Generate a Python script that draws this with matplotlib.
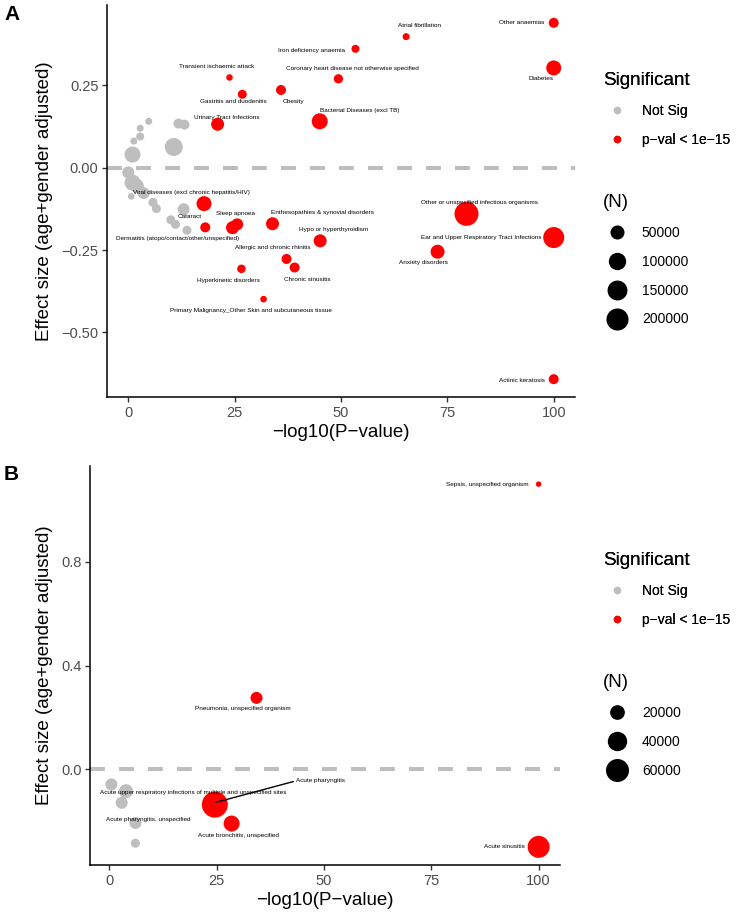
import numpy as np
import matplotlib.pyplot as plt
from matplotlib.lines import Line2D

plt.rcParams['font.family'] = ['Liberation Sans', 'DejaVu Sans']

RED = '#FF0000'
GREY = '#BEBEBE'

# ---------------- panel A data ----------------
a_names = ['Iron deficiency anaemia', 'Transient ischaemic attack',
           'Coronary heart disease not otherwise specified', 'Gastritis and duodenitis',
           'Obesity', 'Urinary Tract Infections', 'Bacterial Diseases (excl TB)',
           'Atrial fibrillation', 'Other anaemias', 'Diabetes',
           'Viral diseases (excl chronic hepatitis/HIV)', 'Cataract',
           'Dermatitis (atopo/contact/other/unspecified)', 'Sleep apnoea',
           'Enthesopathies & synovial disorders', 'Hypo or hyperthyroidism',
           'Allergic and chronic rhinitis', 'Chronic sinusitis', 'Hyperkinetic disorders',
           'Primary Malignancy_Other Skin and subcutaneous tissue',
           'Other or unspecified infectious organisms',
           'Ear and Upper Respiratory Tract Infections', 'Anxiety disorders',
           'Actinic keratosis']
a_logp = [53.4, 23.8, 49.4, 26.8, 35.9, 21.0, 45.0, 65.3, 100, 100,
          17.8, 18.1, 24.5, 25.6, 33.9, 45.1, 37.2, 39.1, 26.6, 31.8,
          79.5, 100, 72.7, 100]
a_effect = [0.361, 0.274, 0.270, 0.223, 0.236, 0.132, 0.141, 0.398, 0.44, 0.303,
            -0.109, -0.181, -0.182, -0.172, -0.170, -0.222, -0.277, -0.303, -0.307, -0.399,
            -0.140, -0.212, -0.255, -0.642]
a_n = [3100, 200, 8400, 7000, 12400, 38000, 77600, 776, 12400, 62800,
       62800, 12400, 38000, 27900, 38000, 38000, 12400, 12400, 4850, 300,
       251000, 174600, 49700, 12400]

a_ns_logp = [4.8, 2.8, 2.8, 1.3, 1.0, 11.8, 13.2, 10.7, 0.0, 1.0, 2.0,
             3.6, 0.7, 5.8, 6.6, 13.0, 10.0, 11.1, 13.8]
a_ns_effect = [0.141, 0.120, 0.095, 0.081, 0.040, 0.134, 0.131, 0.063, -0.014, -0.045, -0.055,
               -0.077, -0.087, -0.105, -0.124, -0.126, -0.158, -0.172, -0.190]
a_ns_n = [776, 776, 3100, 776, 77600, 12400, 12400, 111700, 27900, 77600, 49700,
          27900, 300, 7000, 7000, 27900, 7000, 7000, 7000]

# label offsets from the point, in pixels (right, down)
a_lab_dx = [-44, -13, 14, -9, 13, 9, 40, 13, -32, -13,
            -13, -16, -55, -2, 50, 13, -14, 13, -13, -13,
            13, -72, -14, -32]
a_lab_dy = [2, -11, -10, 7, 11, -7, -11, -11, 0, 11,
            -11, -11, 11, -11, -11, -11, -11, 12, 12, 11,
            -11, 0, 11, 1]

a_leg_n = [50000, 100000, 150000, 200000]

# ---------------- panel B data ----------------
b_names = ['Sepsis, unspecified organism', 'Pneumonia, unspecified organism',
           'Acute upper respiratory infections of multiple and unspecified sites',
           'Acute pharyngitis', 'Acute pharyngitis, unspecified',
           'Acute bronchitis, unspecified', 'Acute sinusitis']
b_logp = [100, 34.3, 24.6, 24.9, 24.0, 28.5, 100]
b_effect = [1.10, 0.275, -0.137, -0.128, -0.150, -0.210, -0.300]
b_n = [690, 11560, 79800, 33300, 24800, 24800, 54000]

b_ns_logp = [0.5, 3.9, 2.9, 6.1, 6.1]
b_ns_effect = [-0.059, -0.085, -0.130, -0.208, -0.286]
b_ns_n = [11560, 17500, 11560, 11560, 4900]

b_lab_dx = [-51, -14, -22, 80, -64, 7, -34]
b_lab_dy = [0, 11, -12, -22, 11, 12, 0]

b_leg_n = [20000, 40000, 60000]

W, H = 742, 916
fig = plt.figure(figsize=(W / 100, H / 100), dpi=100)


def px_axes(l, t, r, b):
    return fig.add_axes([l / W, 1 - b / H, (r - l) / W, (b - t) / H])


def diam_a(n):
    return 6 + 0.0359 * np.sqrt(np.asarray(n, dtype=float))


def diam_b(n):
    return 3.4 + 0.08 * np.sqrt(np.asarray(n, dtype=float))


def draw_panel(ax, names, logp, eff, n, ns_logp, ns_eff, ns_n, dx, dy, diam, yticks, yfmt):
    ax.axhline(0, color=GREY, lw=2.9, ls=(0, (3.7, 3.5)), zorder=1)
    ax.scatter(ns_logp, ns_eff, s=(diam(ns_n) * 0.72) ** 2, c=GREY, lw=0, zorder=2)
    ax.scatter(logp, eff, s=(diam(n) * 0.72) ** 2, c=RED, lw=0, zorder=3)
    for name, x, y, ox, oy in zip(names, logp, eff, dx, dy):
        if name == 'Acute pharyngitis':
            ax.annotate(name, (x, y), xytext=(ox * 0.72, -oy * 0.72), textcoords='offset points',
                        ha='left', va='center', fontsize=4.6, zorder=5,
                        arrowprops=dict(arrowstyle='-', color='black', lw=1.0,
                                        shrinkA=0, shrinkB=0, relpos=(0, 0.4)))
        else:
            ax.annotate(name, (x, y), xytext=(ox * 0.72, -oy * 0.72), textcoords='offset points',
                        ha='center', va='center', fontsize=4.6, zorder=5)
    allx = list(logp) + list(ns_logp)
    ally = list(eff) + list(ns_eff)
    rx = max(allx) - min(allx)
    ry = max(ally) - min(ally)
    ax.set_xlim(min(allx) - 0.05 * rx, max(allx) + 0.05 * rx)
    ax.set_ylim(min(ally) - 0.05 * ry, max(ally) + 0.05 * ry)
    ax.set_xticks([0, 25, 50, 75, 100])
    ax.set_yticks(yticks)
    ax.set_yticklabels([(yfmt % v).replace('-', '\u2212') for v in yticks])
    for s in ['top', 'right']:
        ax.spines[s].set_visible(False)
    for s in ['left', 'bottom']:
        ax.spines[s].set_linewidth(1.1)
    ax.tick_params(length=3.7, width=1.0, color='#333333', labelcolor='#4D4D4D',
                   labelsize=10.5, pad=2.5)
    ax.set_xlabel('\u2212log10(P\u2212value)', fontsize=13.5, labelpad=3)
    ax.set_ylabel('Effect size (age+gender adjusted)', fontsize=13.5, labelpad=6)


def add_legends(top_px, sizes, diam):
    h1 = [Line2D([], [], ls='', marker='o', ms=7.5 * 0.72, mfc=GREY, mec='none'),
          Line2D([], [], ls='', marker='o', ms=7.5 * 0.72, mfc=RED, mec='none')]
    kw = dict(loc='upper left', frameon=False, fontsize=10, title_fontsize=13.5,
              alignment='left', handlelength=2.0, handletextpad=0.8, labelspacing=1.07,
              borderpad=0, borderaxespad=0)
    leg1 = fig.legend(handles=h1, labels=['Not Sig', 'p\u2212val < 1e\u221215'], title='Significant',
                      bbox_to_anchor=(603 / W, 1 - top_px / H), **kw)
    h2 = [Line2D([], [], ls='', marker='o', ms=float(diam(v)) * 0.72, mfc='black', mec='none')
          for v in sizes]
    fig.legend(handles=h2, labels=[str(v) for v in sizes], title='(N)',
               bbox_to_anchor=(603 / W, 1 - (top_px + 122) / H), **kw)
    fig.add_artist(leg1)


axA = px_axes(107, 5, 575, 397)
draw_panel(axA, a_names, a_logp, a_effect, a_n, a_ns_logp, a_ns_effect, a_ns_n,
           a_lab_dx, a_lab_dy, diam_a, [-0.5, -0.25, 0, 0.25], '%.2f')
add_legends(72, a_leg_n, diam_a)

axB = px_axes(90, 466, 560, 865)
draw_panel(axB, b_names, b_logp, b_effect, b_n, b_ns_logp, b_ns_effect, b_ns_n,
           b_lab_dx, b_lab_dy, diam_b, [0.0, 0.4, 0.8], '%.1f')
add_legends(552, b_leg_n, diam_b)

fig.text(4 / W, 1 - 14 / H, 'A', fontsize=15, fontweight='bold', va='center')
fig.text(4 / W, 1 - 475 / H, 'B', fontsize=15, fontweight='bold', va='center')

fig.savefig('out.png', dpi=100)
